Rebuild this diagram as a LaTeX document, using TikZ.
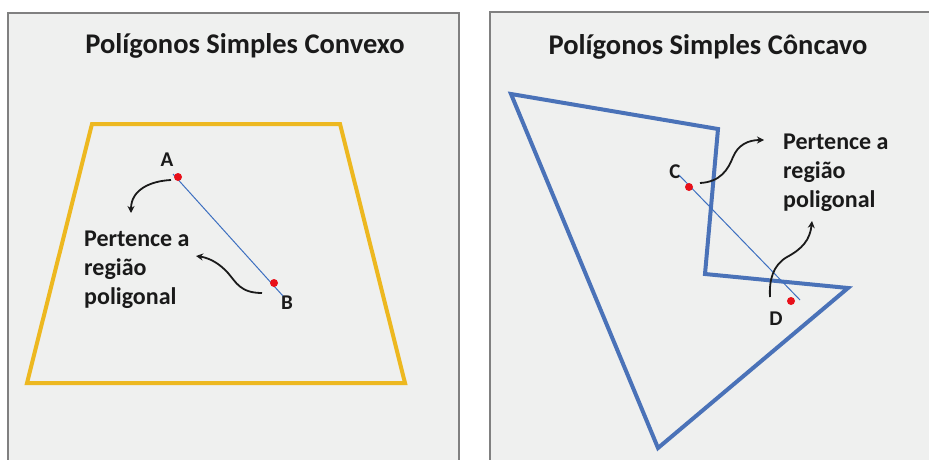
\documentclass[tikz,border=0pt]{standalone}
\usepackage{fontspec}
\setmainfont{Carlito}
\usetikzlibrary{arrows.meta}
\definecolor{cgold}{HTML}{EDB820}
\definecolor{cblue}{HTML}{4A72B8}
\definecolor{cline}{HTML}{3D6FC0}
\definecolor{cred}{HTML}{E8101A}
\definecolor{cpanel}{HTML}{EFF0EF}
\definecolor{cframe}{HTML}{808080}
\definecolor{ctext}{HTML}{1A1A1A}
\tikzset{
  panel/.style={draw=cframe, fill=cpanel, line width=2pt},
  poly/.style={draw=#1, line width=4pt, line join=miter},
  seg/.style={draw=cline, line width=1pt},
  dot/.style={circle, fill=cred, inner sep=0pt, minimum size=8pt},
  letter/.style={font=\bfseries\fontsize{21}{21}\selectfont, text=ctext, inner sep=0pt},
  title/.style={font=\bfseries\fontsize{28.5}{28.5}\selectfont, text=ctext, inner sep=0pt},
  note/.style={font=\bfseries\fontsize{24}{29}\selectfont, align=left, text=ctext, inner sep=0pt},
  arrow/.style={-{Stealth[length=7pt, width=7pt]}, draw=ctext, line width=1.8pt},
}

\begin{document}
\begin{tikzpicture}[x=1pt, y=-1pt]
  \useasboundingbox (0,0) rectangle (929,460);
  \clip (0,0) rectangle (929,460);
  \fill[white] (0,0) rectangle (929,460);
  \draw[panel] (8,13) rectangle (459,480);
  \draw[panel] (490,12) rectangle (940,480);

  \node[title, anchor=base] (tconv) at (245,54) {Polígonos Simples Convexo};
  \node[title, anchor=base] (tconc) at (708,55) {Polígonos Simples Côncavo};

  \draw[poly=cgold] (92,124) -- (340,124) -- (405,383) -- (27,383) -- cycle;
  \draw[poly=cblue] (511,94) -- (718,129) -- (705,274) -- (848,288) -- (658,448) -- cycle;

  \node[letter] (la) at (167,160) {A};
  \node[letter] (lb) at (287,303) {B};
  \node[letter] (lc) at (675,172) {C};
  \node[letter] (ld) at (776,319) {D};

  \coordinate (ab1) at (173,174);
  \coordinate (ab2) at (283,296);
  \coordinate (cd1) at (679,175);
  \coordinate (cd2) at (800,300);
  \draw[seg] (ab1) -- (ab2);
  \draw[seg] (cd1) -- (cd2);

  \node[dot] (pa) at (178,177) {};
  \node[dot] (pb) at (274,283) {};
  \node[dot] (pc) at (689,187) {};
  \node[dot] (pd) at (791,301) {};

  \node[note, anchor=base west] (nconv) at (84,304) {Pertence a\\região\\poligonal};
  \node[note, anchor=base west] (nconc) at (783,207) {Pertence a\\região\\poligonal};

  \coordinate (sa) at (171,180);
  \coordinate (ea) at (131,213);
  \coordinate (sb) at (262,293);
  \coordinate (eb) at (196,256);
  \coordinate (sc) at (700,183);
  \coordinate (ec) at (764,140);
  \coordinate (sd) at (770,297);
  \coordinate (ed) at (812,221);
  \draw[arrow] (sa) .. controls (150,181) and (131,190) .. (ea);
  \draw[arrow] (sb) .. controls (240,293) and (236,282) .. (228,273) .. controls (220,264) and (210,258) .. (eb);
  \draw[arrow] (sc) .. controls (720,182) and (728,170) .. (733,157) .. controls (738,145) and (748,140) .. (ec);
  \draw[arrow] (sd) .. controls (769,280) and (773,265) .. (787,257) .. controls (802,249) and (810,240) .. (ed);
\end{tikzpicture}
\end{document}
